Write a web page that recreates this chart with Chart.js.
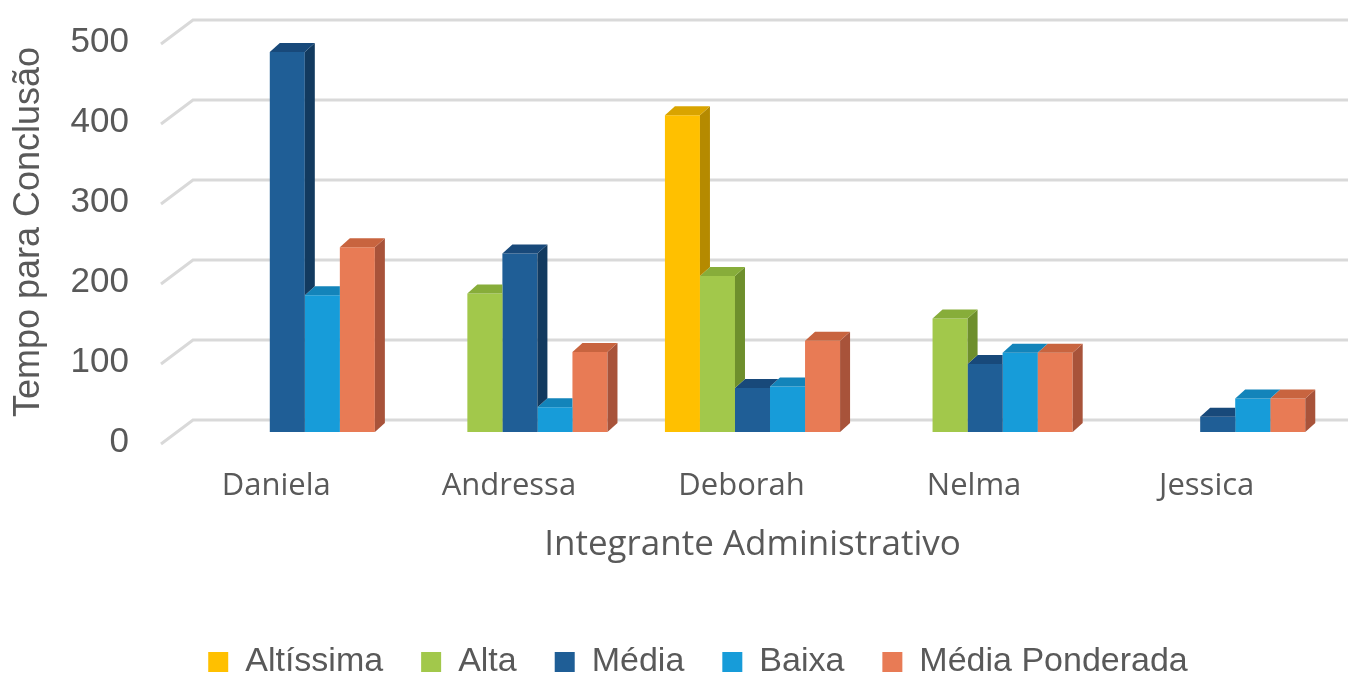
<!DOCTYPE html>
<html><head><meta charset="utf-8">
<script src="https://cdn.jsdelivr.net/npm/chart.js@4.4.1/dist/chart.umd.min.js"></script>
<style>html,body{margin:0;padding:0;background:#fff;overflow:hidden}#wrap{width:1348px;height:689px;position:relative}</style>
</head><body><div id="wrap"><canvas id="c"></canvas></div>
<script>
const categories = ['Daniela','Andressa','Deborah','Nelma','Jessica'];
const seriesNames = ['Altíssima','Alta','Média','Baixa','Média Ponderada'];
const altissima = [null,null,396,null,null];
const alta = [null,173,195,142,null];
const media = [475,223,55,85,19];
const baixa = [171,31,57,99,42];
const mediaPonderada = [231,100,114,99,42];
const yTicks = [0,100,200,300,400,500];
const yTitle = 'Tempo para Conclusão';
const xTitle = 'Integrante Administrativo';

const frontColors = ['#FFC000','#A2C84B','#1F5E96','#179CD9','#E87B55'];
const sideColors  = ['#B58A00','#6E8F2C','#123A5F','#0E6C9A','#A8533A'];
const topColors   = ['#D9A400','#87AD3A','#18497A','#1384BA','#C8643F'];
const DX = 10, DY = -9;

function silhouette(ctx, l, r, y, base){
  ctx.moveTo(l, base); ctx.lineTo(l, y); ctx.lineTo(l+DX, y+DY); ctx.lineTo(r+DX, y+DY);
  ctx.lineTo(r+DX, base+DY); ctx.lineTo(r, base); ctx.closePath();
}

const bar3d = {
  id: 'bar3d',
  afterDatasetDraw(chart, args){
    const i = args.index, meta = args.meta, ctx = chart.ctx;
    const ds = chart.data.datasets;
    meta.data.forEach((el, j) => {
      if (ds[i].data[j] == null) return;
      const p = el.getProps(['x','y','base','width'], true);
      const l = p.x - p.width/2, r = p.x + p.width/2;
      ctx.save();
      if (i + 1 < ds.length && ds[i+1].data[j] != null) {
        const n = chart.getDatasetMeta(i+1).data[j].getProps(['x','y','base','width'], true);
        const nl = n.x - n.width/2, nr = n.x + n.width/2;
        ctx.beginPath();
        ctx.rect(0, 0, chart.width, chart.height);
        silhouette(ctx, nl, nr, n.y, n.base);
        ctx.clip('evenodd');
      }
      ctx.fillStyle = sideColors[i];
      ctx.beginPath();
      ctx.moveTo(r, p.y); ctx.lineTo(r+DX, p.y+DY); ctx.lineTo(r+DX, p.base+DY); ctx.lineTo(r, p.base); ctx.closePath();
      ctx.fill();
      ctx.fillStyle = topColors[i];
      ctx.beginPath();
      ctx.moveTo(l, p.y); ctx.lineTo(l+DX, p.y+DY); ctx.lineTo(r+DX, p.y+DY); ctx.lineTo(r, p.y); ctx.closePath();
      ctx.fill();
      ctx.restore();
    });
  }
};

const walls = {
  id: 'walls',
  beforeDatasetsDraw(chart){
    const ctx = chart.ctx, ys = chart.scales.y, a = chart.chartArea;
    ctx.save();
    ctx.strokeStyle = '#D9D9D9';
    ctx.lineWidth = 3;
    yTicks.forEach(v => {
      const py = ys.getPixelForValue(v);
      ctx.beginPath();
      ctx.moveTo(a.left - 10, py + 12);
      ctx.lineTo(a.left + 22, py - 12);
      ctx.lineTo(chart.width, py - 12);
      ctx.stroke();
    });
    ctx.restore();
  }
};

const seriesData = [altissima, alta, media, baixa, mediaPonderada];
const datasets = seriesNames.map((name, i) => ({
  label: name,
  data: seriesData[i],
  backgroundColor: frontColors[i],
  borderWidth: 0,
  categoryPercentage: 0.753,
  barPercentage: 1.0
}));

new Chart(document.getElementById('c'), {
  type: 'bar',
  data: { labels: categories, datasets },
  plugins: [walls, bar3d],
  options: {
    responsive: true,
    maintainAspectRatio: false,
    animation: false,
    events: [],
    layout: { padding: { top: 32, right: 14, left: 62, bottom: 0 } },
    plugins: {
      tooltip: { enabled: false },
      legend: {
        position: 'bottom',
        labels: {
          font: { family: 'Liberation Sans', size: 34 },
          color: '#595959',
          boxWidth: 20,
          boxHeight: 20,
          padding: 38
        }
      }
    },
    scales: {
      x: {
        afterFit(scale){ scale.height = 175; },
        grid: { display: false },
        border: { display: false },
        ticks: {
          font: { family: 'Open Sans', size: 31 },
          color: '#595959',
          padding: 28,
          labelOffset: -11
        },
        title: {
          display: true,
          text: xTitle,
          font: { family: 'Open Sans', size: 35 },
          color: '#595959',
          padding: { top: 0, bottom: 41 }
        }
      },
      y: {
        min: 0,
        max: 500,
        afterFit(scale){ scale.width = 109; scale.paddingTop = 0; scale.paddingBottom = 0; },
        afterBuildTicks(scale){ scale.ticks = yTicks.map(v => ({ value: v })); },
        grid: { display: false, drawTicks: false },
        border: { display: false },
        ticks: {
          font: { family: 'Liberation Sans', size: 35 },
          color: '#595959',
          padding: 42,
          labelOffset: 10
        },
        title: {
          display: true,
          text: yTitle,
          font: { family: 'Liberation Sans', size: 36 },
          color: '#595959',
          padding: { top: -55, bottom: 0 }
        }
      }
    }
  }
});
</script>
</body></html>
